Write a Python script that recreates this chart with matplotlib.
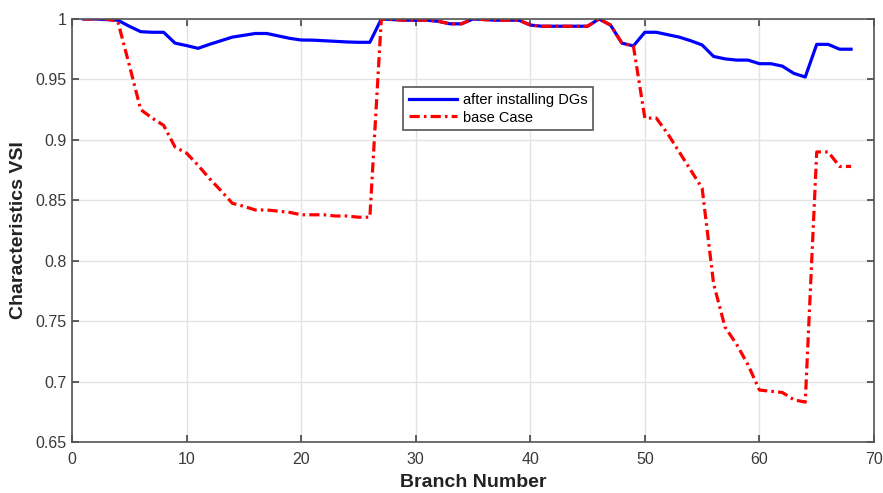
import numpy as np
import matplotlib
matplotlib.use("Agg")
import matplotlib.pyplot as plt

# branch index 1..68
branch = np.arange(1, 69)

# VSI after DG placement
vsi_dg = [1.000, 1.000, 0.9995, 0.999, 0.994, 0.9895, 0.989, 0.989, 0.980, 0.978,
          0.9757, 0.979, 0.982, 0.985, 0.9865, 0.988, 0.988, 0.986, 0.984, 0.9826,
          0.9825, 0.982, 0.9815, 0.981, 0.9807, 0.9807, 1.000, 0.9995, 0.999, 0.999,
          0.999, 0.998, 0.996, 0.996, 1.000, 0.9995, 0.999, 0.999, 0.999, 0.995,
          0.994, 0.994, 0.994, 0.994, 0.994, 1.000, 0.995, 0.980, 0.9777, 0.989,
          0.989, 0.987, 0.985, 0.982, 0.9785, 0.969, 0.967, 0.966, 0.966, 0.963,
          0.963, 0.961, 0.955, 0.952, 0.979, 0.979, 0.975, 0.975]

# VSI of the base case
vsi_base = [1.000, 1.000, 1.000, 0.998, 0.962, 0.925, 0.918, 0.912, 0.894, 0.889,
            0.879, 0.868, 0.858, 0.8475, 0.845, 0.842, 0.842, 0.841, 0.840, 0.838,
            0.838, 0.838, 0.837, 0.837, 0.836, 0.836, 1.000, 0.9995, 0.999, 0.999,
            0.999, 0.998, 0.996, 0.996, 1.000, 0.9995, 0.999, 0.999, 0.999, 0.995,
            0.994, 0.994, 0.994, 0.994, 0.994, 1.000, 0.995, 0.980, 0.9777, 0.918,
            0.918, 0.905, 0.890, 0.875, 0.860, 0.781, 0.745, 0.731, 0.714, 0.693,
            0.692, 0.691, 0.685, 0.683, 0.890, 0.890, 0.878, 0.878]

xticks = [0, 10, 20, 30, 40, 50, 60, 70]
yticks = [0.65, 0.7, 0.75, 0.8, 0.85, 0.9, 0.95, 1]
ytick_labels = ["0.65", "0.7", "0.75", "0.8", "0.85", "0.9", "0.95", "1"]

plt.rcParams['font.family'] = ['Liberation Sans', 'DejaVu Sans']

fig = plt.figure(figsize=(8.83, 4.93), dpi=100)
ax = fig.add_axes([0.0815, 0.1034, 0.9083, 0.8581])

ax.plot(branch, vsi_dg, '-', color='#0000ff', linewidth=2.3, label='after installing DGs')
ax.plot(branch, vsi_base, color='#ff0000', linewidth=2.3, linestyle=(0, (3.2, 1.3, 0.8, 1.3)),
        label='base Case')

ax.set_xlim(0, 70)
ax.set_ylim(0.65, 1)
ax.set_xticks(xticks)
ax.set_yticks(yticks)
ax.set_yticklabels(ytick_labels)

ax.grid(True, color='#e3e3e3', linewidth=1)
ax.set_axisbelow(True)
for sp in ax.spines.values():
    sp.set_color('#555555')
    sp.set_linewidth(1.2)
ax.tick_params(direction='in', which='both', top=True, right=True, length=5,
               width=1.2, color='#444444', labelsize=11.5, labelcolor='#3a3a3a')
ax.tick_params(axis='x', pad=7)
ax.tick_params(axis='y', pad=4)

ax.set_xlabel('Branch Number', fontsize=14, fontweight='bold', color='#222222', labelpad=5)
ax.set_ylabel('Characteristics VSI', fontsize=14, fontweight='bold', color='#222222', labelpad=6)

leg = ax.legend(loc='upper left', bbox_to_anchor=(0.4127, 0.839), borderaxespad=0,
                fontsize=10.5, fancybox=False, framealpha=1, edgecolor='#555555',
                handlelength=3.3, handletextpad=0.4, labelspacing=0.25, borderpad=0.4)
leg.get_frame().set_linewidth(1.2)

fig.savefig('out.png', dpi=100)
